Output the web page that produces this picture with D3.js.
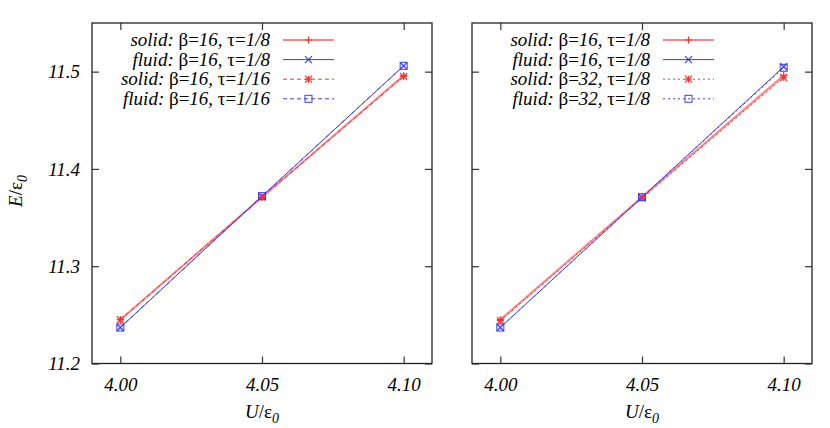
<!DOCTYPE html>
<html>
<head>
<meta charset="utf-8">
<script src="https://cdn.jsdelivr.net/npm/d3@7"></script>
<style>
  body { margin: 0; background: #fff; }
</style>
</head>
<body>
<div id="chart-area"></div>
<script>
// data
var uValues = [4.00, 4.05, 4.10];
var xTicks = [4.00, 4.05, 4.10];
var yTicks = [11.2, 11.3, 11.4, 11.5];

var leftSolid8   = [11.245, 11.371, 11.496];
var leftFluid8   = [11.237, 11.372, 11.506];
var leftSolid16  = [11.245, 11.371, 11.495];
var leftFluid16  = [11.237, 11.372, 11.506];

var rightSolid16 = [11.245, 11.371, 11.496];
var rightFluid16 = [11.237, 11.371, 11.505];
var rightSolid32 = [11.244, 11.370, 11.494];
var rightFluid32 = [11.237, 11.371, 11.504];

var leftLabels = [
  ["solid", "16", "1/8"], ["fluid", "16", "1/8"],
  ["solid", "16", "1/16"], ["fluid", "16", "1/16"]
];
var rightLabels = [
  ["solid", "16", "1/8"], ["fluid", "16", "1/8"],
  ["solid", "32", "1/8"], ["fluid", "32", "1/8"]
];

var red = "#ff3030", blue = "#3a3aff";
var serif = "Tinos, 'Times New Roman', serif";

var svg = d3.select("#chart-area").append("svg")
    .attr("width", 830)
    .attr("height", 428)
    .attr("font-family", serif);

var panelW = 340, panelH = 340.5, panelTop = 23;

var x = d3.scaleLinear().domain([3.99, 4.11]).range([0, panelW]);
var y = d3.scaleLinear().domain([11.2, 11.55]).range([panelH, 0]);

function drawMarker(g, kind, cx, cy, color) {
  var s = 3.5;
  if (kind == "plus" || kind == "star") {
    g.append("path").attr("d", "M" + (cx - s) + "," + cy + "H" + (cx + s) + "M" + cx + "," + (cy - s) + "V" + (cy + s))
      .attr("stroke", color).attr("stroke-width", 1.2);
  }
  if (kind == "cross" || kind == "star") {
    g.append("path").attr("d", "M" + (cx - s) + "," + (cy - s) + "L" + (cx + s) + "," + (cy + s) + "M" + (cx - s) + "," + (cy + s) + "L" + (cx + s) + "," + (cy - s))
      .attr("stroke", color).attr("stroke-width", 1.2);
  }
  if (kind == "square") {
    g.append("rect").attr("x", cx - s).attr("y", cy - s).attr("width", 2 * s).attr("height", 2 * s)
      .attr("fill", "none").attr("stroke", color).attr("stroke-width", 1);
  }
}

function drawPanel(left, series, labels, showYLabels, textEnd) {
  var g = svg.append("g").attr("transform", "translate(" + left + "," + panelTop + ")");

  // ticks on all four sides, pointing inward
  g.append("g").attr("transform", "translate(0," + panelH + ")")
    .call(d3.axisBottom(x).tickValues(xTicks).tickSize(-7).tickPadding(14).tickFormat(d3.format(".2f")))
    .call(a => a.select(".domain").remove())
    .selectAll("text").attr("font-size", 19).attr("font-style", "italic").attr("fill", "#000");
  g.append("g")
    .call(d3.axisTop(x).tickValues(xTicks).tickSize(-7).tickFormat(""))
    .call(a => a.select(".domain").remove());
  g.append("g")
    .call(d3.axisLeft(y).tickValues(yTicks).tickSize(-7).tickPadding(12).tickFormat(showYLabels ? d3.format(".1f") : ""))
    .call(a => a.select(".domain").remove())
    .selectAll("text").attr("font-size", 19).attr("font-style", "italic").attr("fill", "#000");
  g.append("g").attr("transform", "translate(" + panelW + ",0)")
    .call(d3.axisRight(y).tickValues(yTicks).tickSize(-7).tickFormat(""))
    .call(a => a.select(".domain").remove());
  g.selectAll("g").attr("font-family", serif);
  g.selectAll(".tick line").attr("stroke", "#333").attr("stroke-width", 1.2);

  var line = d3.line().x((d, i) => x(uValues[i])).y(d => y(d));

  series.forEach((s, k) => {
    g.append("path").datum(s.values)
      .attr("d", line)
      .attr("fill", "none")
      .attr("stroke", s.color)
      .attr("stroke-width", s.width)
      .attr("stroke-opacity", s.opacity)
      .attr("stroke-dasharray", s.dash);
    s.values.forEach((v, i) => drawMarker(g, s.marker, x(uValues[i]), y(v), s.color));

    // legend row
    var ly = 17 + k * 19.6;
    var t = g.append("text").attr("x", textEnd).attr("y", ly + 6)
      .attr("text-anchor", "end").attr("font-size", 19).attr("fill", "#000");
    var lab = labels[k];
    t.append("tspan").attr("font-style", "italic").text(lab[0] + ": ");
    t.append("tspan").text("β=");
    t.append("tspan").attr("font-style", "italic").text(lab[1] + ", ");
    t.append("tspan").text("τ=");
    t.append("tspan").attr("font-style", "italic").text(lab[2]);
    g.append("line").attr("x1", textEnd + 13).attr("x2", textEnd + 64)
      .attr("y1", ly).attr("y2", ly)
      .attr("stroke", s.color).attr("stroke-width", s.width)
      .attr("stroke-opacity", s.opacity).attr("stroke-dasharray", s.dash);
    drawMarker(g, s.marker, textEnd + 38.5, ly, s.color);
  });

  // frame
  g.append("rect").attr("width", panelW).attr("height", panelH)
    .attr("fill", "none").attr("stroke", "#222").attr("stroke-width", 1.3);

  // x label
  var xl = g.append("text").attr("x", panelW / 2).attr("y", panelH + 54)
    .attr("text-anchor", "middle").attr("font-size", 19).attr("fill", "#000");
  xl.append("tspan").attr("font-style", "italic").text("U");
  xl.append("tspan").text("/ε");
  xl.append("tspan").attr("font-style", "italic").attr("font-size", 14).attr("dy", 5).text("0");
}

drawPanel(92, [
  { values: leftSolid8,  color: red,  width: 2,   opacity: 0.6, dash: null,  marker: "plus" },
  { values: leftFluid8,  color: blue, width: 1,   opacity: 1,   dash: null,  marker: "cross" },
  { values: leftSolid16, color: red,  width: 1,   opacity: 1,   dash: "4,3", marker: "star" },
  { values: leftFluid16, color: blue, width: 1,   opacity: 1,   dash: "4,3", marker: "square" }
], leftLabels, true, 178);

drawPanel(472, [
  { values: rightSolid16, color: red,  width: 2, opacity: 0.6, dash: null,  marker: "plus" },
  { values: rightFluid16, color: blue, width: 1, opacity: 1,   dash: null,  marker: "cross" },
  { values: rightSolid32, color: red,  width: 1, opacity: 1,   dash: "2,3", marker: "star" },
  { values: rightFluid32, color: blue, width: 1, opacity: 1,   dash: "2,3", marker: "square" }
], rightLabels, false, 178);

// y label
var yl = svg.append("text").attr("transform", "translate(22,191) rotate(-90)")
  .attr("text-anchor", "middle").attr("font-size", 19).attr("fill", "#000");
yl.append("tspan").attr("font-style", "italic").text("E");
yl.append("tspan").text("/ε");
yl.append("tspan").attr("font-style", "italic").attr("font-size", 14).attr("dy", 5).text("0");
</script>
</body>
</html>
